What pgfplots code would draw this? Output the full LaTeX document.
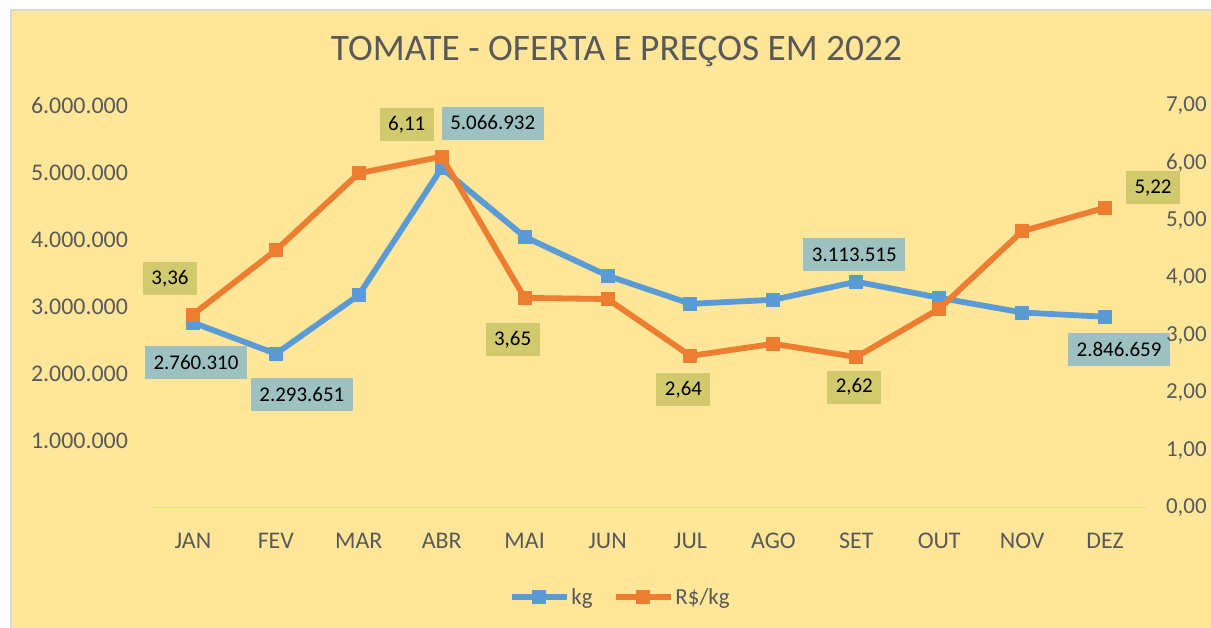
\documentclass[border=0pt]{standalone}
\usepackage{pgfplots}
\pgfplotsset{compat=1.18}
\usepackage{fontspec}
\setmainfont{Carlito}
\definecolor{bg}{HTML}{FFE699}
\definecolor{kgblue}{HTML}{5B9BD5}
\definecolor{rsorange}{HTML}{ED7D31}
\definecolor{txtgray}{HTML}{595959}
\definecolor{boxteal}{HTML}{9DC0C0}
\definecolor{boxolive}{HTML}{D1C96E}
\definecolor{gridgray}{HTML}{D9D9D9}
\begin{document}
\begin{tikzpicture}[x=1bp,y=1bp]
\path[use as bounding box] (-151.5,-120.5) rectangle (1059.5,507.5);
\fill[white] (-155,-125) rectangle (1065,512);
\fill[bg] (-140.5,-125) rectangle (1065,497.5);
\draw[gridgray,line width=1.2bp] (-140.5,-125) -- (-140.5,497.5) -- (1065,497.5);
\node[text=txtgray,font=\fontsize{37.5}{42}\selectfont] at (465,455.5) {TOMATE - OFERTA E PREÇOS EM 2022};
\tikzset{lblT/.style={fill=boxteal,text=black,font=\fontsize{21}{24}\selectfont,inner xsep=8.5bp,minimum height=33bp},
         lblO/.style={fill=boxolive,text=black,font=\fontsize{21}{24}\selectfont,inner xsep=8.5bp,minimum height=33bp}}
\begin{axis}[
  at={(0,0)}, anchor=south west,
  scale only axis, width=995bp, height=402bp,
  xmin=-0.5, xmax=11.5, ymin=0, ymax=6000000,
  clip=false,
  axis x line*=bottom, axis y line*=left,
  x axis line style={draw=gridgray,line width=1.2bp,-},
  y axis line style={draw=none},
  xtick={0,...,11},
  xticklabels={JAN,FEV,MAR,ABR,MAI,JUN,JUL,AGO,SET,OUT,NOV,DEZ},
  ytick={1000000,2000000,3000000,4000000,5000000,6000000},
  scaled y ticks=false,
  major tick length=0pt,
  tick style={draw=none},
  /pgf/number format/.cd, fixed, 1000 sep={.}, assume math mode=true,
  /pgfplots/.cd,
  tick label style={text=txtgray,font=\fontsize{24}{28}\selectfont},
  xticklabel style={yshift=-22bp},
  yticklabel style={xshift=-20bp},
]
\addplot[kgblue,line width=5.8bp,mark=square*,mark size=6.5bp,mark options={solid,line width=0pt}] coordinates {
(0,2760310) (1,2293651) (2,3170000) (3,5066932) (4,4040000) (5,3460000)
(6,3040000) (7,3100000) (8,3370000) (9,3130000) (10,2910000) (11,2846659)};
\node[lblT,xshift=3bp,yshift=-40bp] at (axis cs:0,2760310) {2.760.310};
\node[lblT,xshift=26bp,yshift=-41bp] at (axis cs:1,2293651) {2.293.651};
\node[lblT,xshift=51bp,yshift=45bp] at (axis cs:3,5066932) {5.066.932};
\node[lblT,xshift=-2bp,yshift=27bp] at (axis cs:8,3370000) {3.113.515};
\node[lblT,xshift=14bp,yshift=-33bp] at (axis cs:11,2846659) {2.846.659};
\end{axis}
\begin{axis}[
  at={(0,0)}, anchor=south west,
  scale only axis, width=995bp, height=402bp,
  xmin=-0.5, xmax=11.5, ymin=0, ymax=7,
  clip=false,
  axis x line=none, axis y line*=right,
  y axis line style={draw=none},
  ytick={0,1,2,3,4,5,6,7},
  major tick length=0pt,
  tick style={draw=none},
  /pgf/number format/.cd, fixed, fixed zerofill, precision=2, dec sep={,}, assume math mode=true,
  /pgfplots/.cd,
  tick label style={text=txtgray,font=\fontsize{23}{27}\selectfont},
  yticklabel style={xshift=16bp},
  legend style={at={(0.471,-89.5bp)},anchor=center,draw=none,fill=none,
    font=\fontsize{23}{27}\selectfont,text=txtgray,legend columns=-1,
    /tikz/every even column/.append style={column sep=18bp}},
  legend image code/.code={\draw[#1,mark repeat=2,mark phase=2] plot coordinates {(0bp,0bp) (27.5bp,0bp) (55bp,0bp)};},
]
\addlegendimage{kgblue,line width=5.8bp,mark=square*,mark size=6.5bp,mark options={solid,line width=0pt}}
\addlegendentry{kg}
\addplot[rsorange,line width=5.8bp,mark=square*,mark size=6.5bp,mark options={solid,line width=0pt}] coordinates {
(0,3.36) (1,4.48) (2,5.82) (3,6.11) (4,3.65) (5,3.63)
(6,2.64) (7,2.85) (8,2.62) (9,3.46) (10,4.81) (11,5.22)};
\addlegendentry{R\$/kg}
\node[lblO,xshift=-23bp,yshift=36bp] at (axis cs:0,3.36) {3,36};
\node[lblO,xshift=-35bp,yshift=32bp] at (axis cs:3,6.11) {6,11};
\node[lblO,xshift=-12bp,yshift=-42bp] at (axis cs:4,3.65) {3,65};
\node[lblO,xshift=-7bp,yshift=-34bp] at (axis cs:6,2.64) {2,64};
\node[lblO,xshift=-2bp,yshift=-30bp] at (axis cs:8,2.62) {2,62};
\node[lblO,xshift=48bp,yshift=20bp] at (axis cs:11,5.22) {5,22};
\end{axis}
\end{tikzpicture}
\end{document}
